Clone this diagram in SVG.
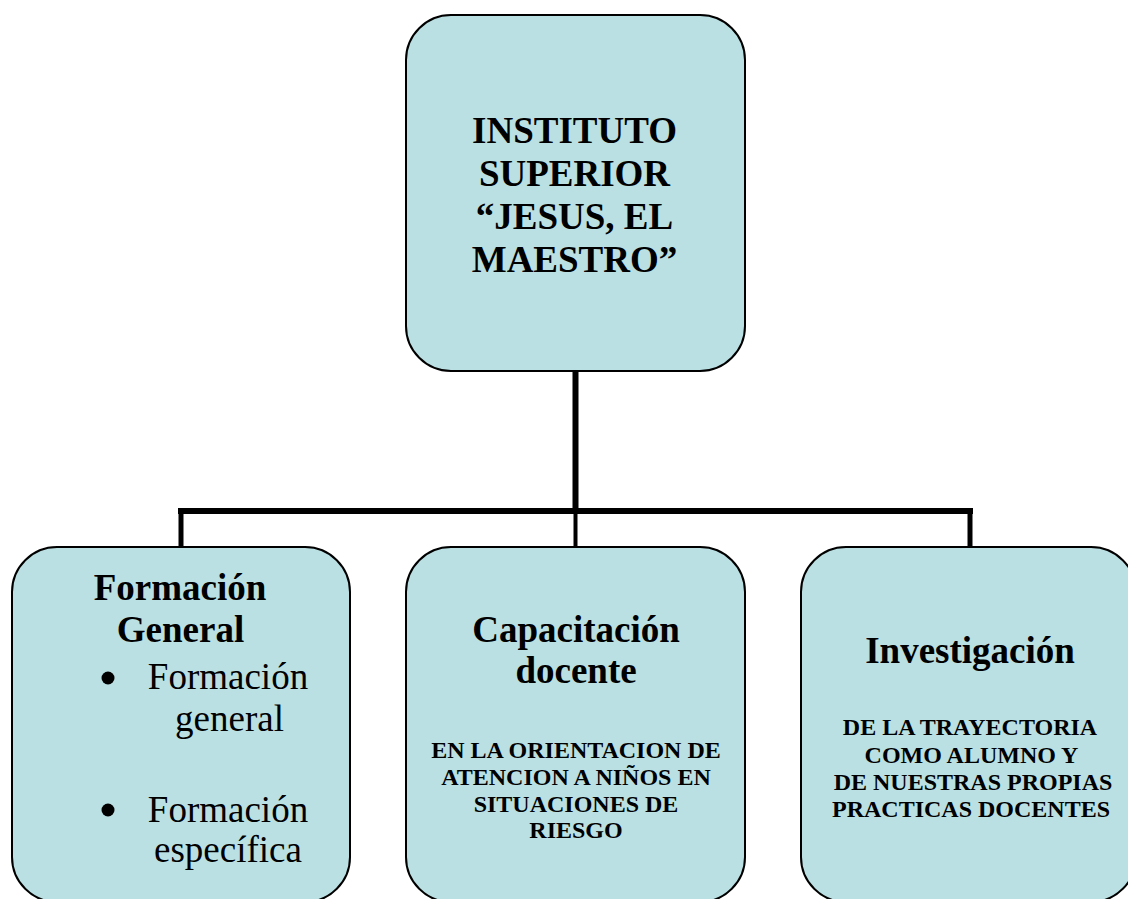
<svg xmlns="http://www.w3.org/2000/svg" width="1128" height="899" viewBox="0 0 1128 899">
<style>
.box{fill:#BAE0E3;stroke:#000;stroke-width:2}
.t{font-family:"Liberation Serif","Times New Roman",serif;fill:#000;text-anchor:middle}
.h{font-size:37px;font-weight:bold}
.r{font-size:37px}
.s{font-size:24px;font-weight:bold}
.c{fill:none;stroke:#000;stroke-linecap:butt}
</style>
<rect width="1128" height="899" fill="#fff"/>
<g id="connectors">
<line class="c" x1="575.5" y1="371" x2="575.5" y2="513" stroke-width="6"/>
<line class="c" x1="178" y1="511" x2="973" y2="511" stroke-width="6"/>
<line class="c" x1="181" y1="511" x2="181" y2="548" stroke-width="5"/>
<line class="c" x1="575.5" y1="511" x2="575.5" y2="548" stroke-width="4"/>
<line class="c" x1="970" y1="511" x2="970" y2="548" stroke-width="5"/>
</g>
<g id="instituto">
<rect class="box" x="406" y="15" width="339" height="356" rx="45" ry="45"/>
<text class="t h" x="574.5" y="143">INSTITUTO</text>
<text class="t h" x="574.5" y="186">SUPERIOR</text>
<text class="t h" x="574.5" y="229">“JESUS, EL</text>
<text class="t h" x="574.5" y="272">MAESTRO”</text>
</g>
<g id="formacion">
<rect class="box" x="12" y="547" width="338" height="355" rx="45" ry="45"/>
<text class="t h" x="180" y="600">Formación</text>
<text class="t h" x="180.5" y="642">General</text>
<circle cx="108" cy="678" r="6.5"/>
<text class="t r" x="228" y="689">Formación</text>
<text class="t r" x="229.5" y="731">general</text>
<circle cx="108" cy="810" r="6.5"/>
<text class="t r" x="228" y="822">Formación</text>
<text class="t r" x="228" y="862">específica</text>
</g>
<g id="capacitacion">
<rect class="box" x="406" y="547" width="339" height="355" rx="45" ry="45"/>
<text class="t h" x="576" y="642">Capacitación</text>
<text class="t h" x="576" y="683">docente</text>
<text class="t s" x="576" y="758">EN LA ORIENTACION DE</text>
<text class="t s" x="576" y="785">ATENCION A NIÑOS EN</text>
<text class="t s" x="576" y="812">SITUACIONES DE</text>
<text class="t s" x="576" y="838">RIESGO</text>
</g>
<g id="investigacion">
<rect class="box" x="801" y="547" width="335" height="355" rx="45" ry="45"/>
<text class="t h" x="970" y="663">Investigación</text>
<text class="t s" x="970" y="735">DE LA TRAYECTORIA</text>
<text class="t s" x="971.5" y="763">COMO ALUMNO Y</text>
<text class="t s" x="973" y="790">DE NUESTRAS PROPIAS</text>
<text class="t s" x="971" y="817">PRACTICAS DOCENTES</text>
</g>
</svg>
